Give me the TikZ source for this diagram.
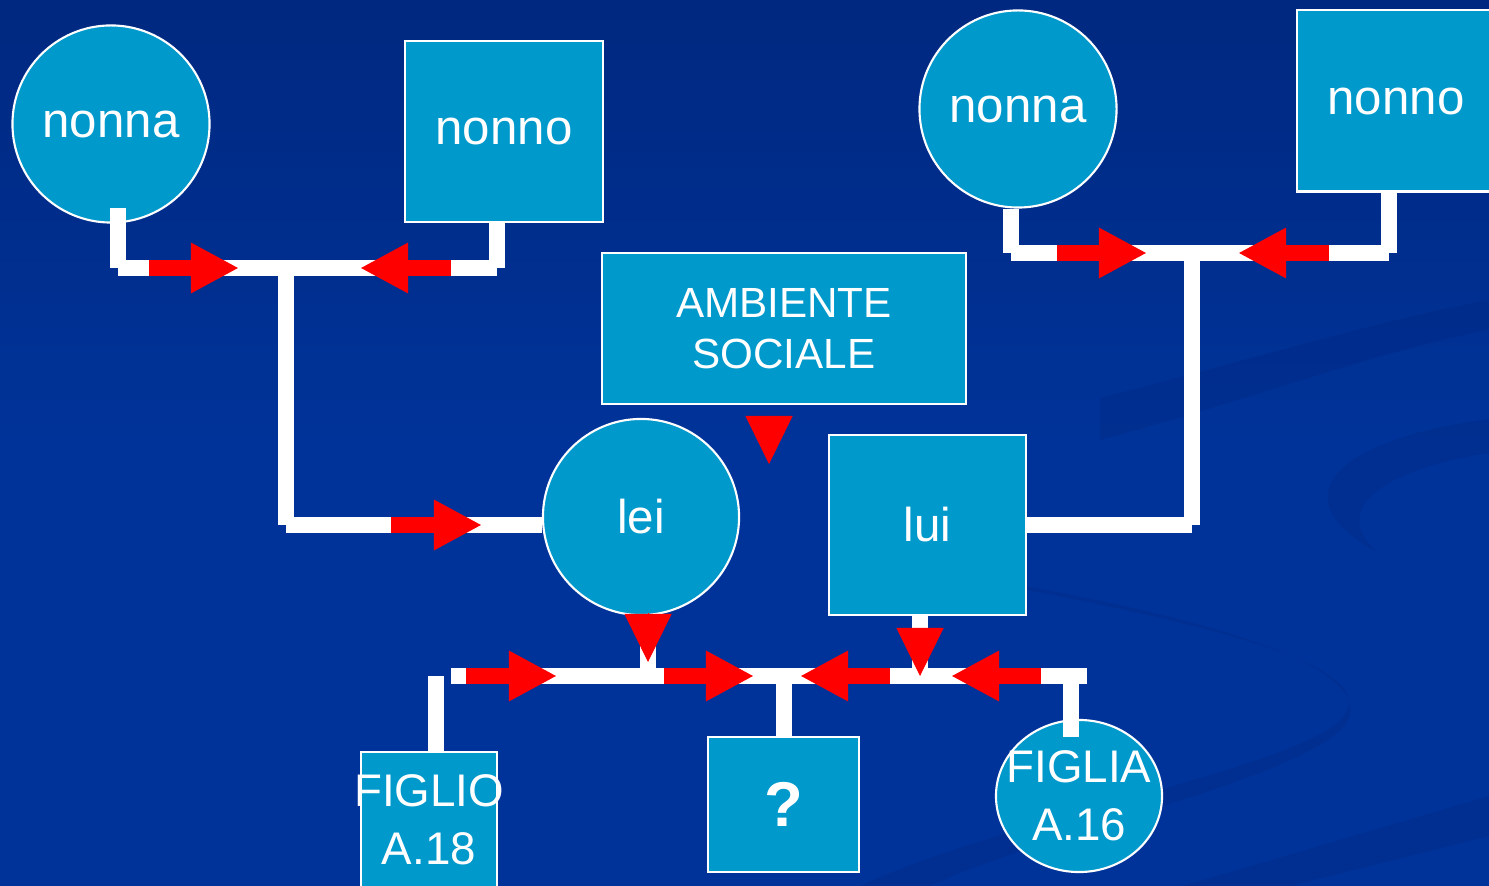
\documentclass[tikz,border=0pt]{standalone}
\usepackage{fontspec}
\setmainfont{Liberation Sans}
\usetikzlibrary{arrows.meta,positioning,shapes.geometric}
\definecolor{eBack}{RGB}{0,51,153}
\definecolor{eTop}{RGB}{0,40,128}
\definecolor{eSwirl}{RGB}{0,38,128}
\definecolor{eNode}{RGB}{0,153,204}
\definecolor{eRed}{RGB}{255,0,0}
\tikzset{p/.style={circle, draw=white, line width=0.6pt, fill=eNode, text=white,
  inner sep=0pt, minimum size=1.97cm, font=\fontsize{14}{16}\selectfont}}
\tikzset{pe/.style={ellipse, draw=white, line width=0.6pt, fill=eNode, text=white,
  inner sep=0pt, minimum width=1.66cm, minimum height=1.52cm}}
\tikzset{q/.style={rectangle, draw=white, line width=0.6pt, fill=eNode, text=white,
  inner sep=0pt, minimum width=1.98cm, minimum height=1.81cm, font=\fontsize{14}{16}\selectfont}}
\tikzset{gp/.style={text height=1.45ex, text depth=0pt}}
\tikzset{w/.style={draw, white, line width=0.16cm}}
\tikzset{r/.style={draw, eRed, line width=0.16cm, -{Triangle[length=4.8mm,width=4.7mm]}}}
\tikzset{rh/.style={draw, eRed, line width=0.01cm, -{Triangle[length=4.8mm,width=4.7mm]}}}

\begin{document}
\begin{tikzpicture}[x=0.01cm, y=-0.01cm]
            \useasboundingbox (0,0) rectangle (1489,886);
            \clip (0,0) rectangle (1489,886);
            \shade [top color=eTop, bottom color=eBack, middle color=eBack] (0,0) rectangle (1489,886);
            %% background swirls
            \begin{scope}[opacity=0.3]
                \fill [eSwirl] (1100,398) .. controls (1250,360) and (1380,320) .. (1489,300)
                    -- (1489,330) .. controls (1380,350) and (1250,400) .. (1100,440) -- cycle;
                \fill [eSwirl] (1489,419) .. controls (1330,440) and (1280,500) .. (1377,552)
                    .. controls (1330,510) and (1380,470) .. (1489,453) -- cycle;
                \fill [eSwirl] (860,560) .. controls (1150,610) and (1400,660) .. (1340,720)
                    .. controls (1290,770) and (1000,820) .. (860,886) -- (930,886)
                    .. controls (1050,830) and (1300,780) .. (1345,725)
                    .. controls (1390,660) and (1150,600) .. (860,560) -- cycle;
                \fill [eSwirl] (1183,886) -- (1489,796) -- (1489,836) -- (1290,886) -- cycle;
            \end{scope}
            %%
            \node (nonnaL) at (111,124) [p, gp] {nonna};
            \node (nonnoL) at (504,131.5) [q, gp] {nonno};
            \node (nonnaR) at (1018,109) [p, gp] {nonna};
            \node (nonnoR) at (1396,101) [q, gp] {nonno};
            \node (amb) at (784,328.5) [q, minimum width=3.63cm, minimum height=1.51cm,
                align=center, font=\fontsize{12}{14.5}\selectfont] {AMBIENTE\\SOCIALE};
            \node (lei) at (641,517) [p, minimum size=1.96cm, font=\fontsize{13.5}{16}\selectfont] {lei};
            \node (lui) at (927.5,525) [q, minimum width=1.97cm, minimum height=1.80cm,
                font=\fontsize{13.5}{16}\selectfont] {lui};
            \node (figlio) at (429,820) [q, minimum width=1.36cm, minimum height=1.36cm,
                align=center, font=\fontsize{13}{16.5}\selectfont]
                {\makebox[0pt]{FIGLIO}\\\makebox[0pt]{A.18}};
            \node (qq) at (783.5,804.5) [q, minimum width=1.51cm, minimum height=1.35cm,
                font=\bfseries\fontsize{18}{20}\selectfont] {?};
            \node (figlia) at (1079,796) [pe, align=center,
                font=\fontsize{13}{16.5}\selectfont]
                {\makebox[0pt]{FIGLIA}\\\makebox[0pt]{A.16}};
            %% top left
            \coordinate (tl0) at (118,208);
            \coordinate (tlA) at (118,268);
            \coordinate (tlB) at (497,268);
            \coordinate (tlC) at (286,268);
            \coordinate (tlD) at (286,525);
            \draw [w] (tl0) to (tlA);
            \draw [w] (nonnoL.south -| tlB) to (tlB);
            \draw [w] (tlA) to (tlB);
            \draw [w] (tlC) to (tlD);
            \draw [w] (tlD) to (tlD -| lei.west);
            %% top right
            \coordinate (trA) at (1011,253);
            \coordinate (trB) at (1389,253);
            \coordinate (trC) at (1192,253);
            \coordinate (trD) at (1192,525);
            \draw [w] (nonnaR.south -| trA) to (trA);
            \draw [w] (nonnoR.south -| trB) to (trB);
            \draw [w] (trA) to (trB);
            \draw [w] (trC) to (trD);
            \draw [w] (trD) to (trD -| lui.east);
            %% bottom
            \coordinate (bA) at (451,676);
            \coordinate (bB) at (1087,676);
            \coordinate (bL) at (648,676);
            \coordinate (bR) at (920,676);
            \coordinate (bF) at (436,676);
            \coordinate (bQ) at (784,676);
            \coordinate (bG) at (1071,676);
            \coordinate (bG2) at (1071,737);
            \draw [w] (bA) to (bB);
            \draw [w] (lei.south -| bL) to (bL);
            \draw [w] (lui.south -| bR) to (bR);
            \draw [w] (bF) to (bF |- figlio.north);
            \draw [w] (bQ) to (bQ |- qq.north);
            \draw [w] (bG) to (bG2);
            %% red arrows
            \coordinate (ra1) at (149,268);  \coordinate (ra1t) at (239,268);
            \coordinate (ra2) at (451,268);  \coordinate (ra2t) at (360,268);
            \coordinate (ra3) at (391,525);  \coordinate (ra3t) at (482,525);
            \coordinate (ra4) at (1057,253); \coordinate (ra4t) at (1147,253);
            \coordinate (ra5) at (1329,253); \coordinate (ra5t) at (1238,253);
            \coordinate (ra6) at (466,676);  \coordinate (ra6t) at (557,676);
            \coordinate (ra7) at (664,676);  \coordinate (ra7t) at (754,676);
            \coordinate (ra8) at (890,676);  \coordinate (ra8t) at (800,676);
            \coordinate (ra9) at (1041,676); \coordinate (ra9t) at (951,676);
            \draw [r] (ra1) to (ra1t);
            \draw [r] (ra2) to (ra2t);
            \draw [r] (ra3) to (ra3t);
            \draw [r] (ra4) to (ra4t);
            \draw [r] (ra5) to (ra5t);
            \draw [r] (ra6) to (ra6t);
            \draw [r] (ra7) to (ra7t);
            \draw [r] (ra8) to (ra8t);
            \draw [r] (ra9) to (ra9t);
            %% arrow heads
            \coordinate (hA) at (769,416);  \coordinate (hAt) at (769,464);
            \coordinate (hL) at (648,613);  \coordinate (hLt) at (648,662);
            \coordinate (hR) at (920,628);  \coordinate (hRt) at (920,676);
            \draw [rh] (hA) to (hAt);
            \draw [rh] (hL) to (hLt);
            \draw [rh] (hR) to (hRt);
\end{tikzpicture}
\end{document}
